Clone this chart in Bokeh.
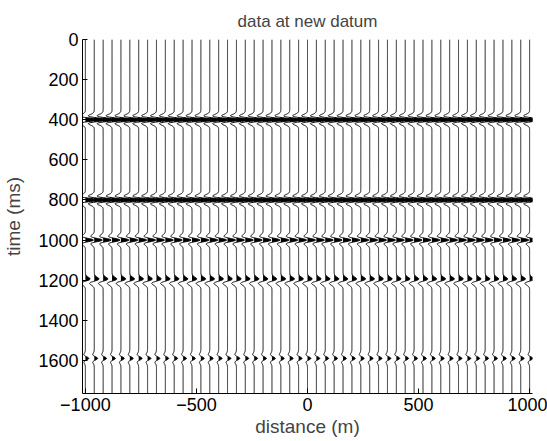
import numpy as np
from bokeh.plotting import figure
from bokeh.models import Range1d, FixedTicker
from bokeh.embed import file_html
from bokeh.resources import INLINE

# ---- data ----
trace_x = list(range(-1000, 1001, 40))            # receiver positions (m)
event_times = [400, 800, 1000, 1205, 1590]       # reflection times (ms)
event_amps = [1.0, 1.0, 0.6, 0.5, 0.25]          # relative amplitudes
event_phase = [0, 0, 0, 90, 0]                   # wavelet phase (deg)
wavelet_freq = 20.0                              # Hz
t_max = 1765
x_ticks = [-1000, -500, 0, 500, 1000]
x_tick_labels = ["\u22121000", "\u2212500", "0", "500", "1000"]
y_ticks = [0, 200, 400, 600, 800, 1000, 1200, 1400, 1600]

# ---- build traces ----
t = np.arange(0, t_max + 1, 1.0)
trace = np.zeros_like(t)
for t0, a, ph in zip(event_times, event_amps, event_phase):
    u = np.pi * wavelet_freq * (t - t0) / 1000.0
    arg = u ** 2
    if ph == 0:
        w = (1 - 2 * arg) * np.exp(-arg)
    else:
        w = -1.65 * u * np.exp(-arg)
    trace += a * w
scale = 60.0

line_xs, line_ys, fill_xs, fill_ys = [], [], [], []
for x0 in trace_x:
    s = trace * scale
    line_xs.append(list(x0 + s))
    line_ys.append(list(t))
    pos = np.clip(s, 0, None)
    fill_xs.append([x0] + list(x0 + pos) + [x0])
    fill_ys.append([t[0]] + list(t) + [t[-1]])

p = figure(width=547, height=441, output_backend="svg", toolbar_location=None,
           x_range=Range1d(-1013, 1013), y_range=Range1d(t_max, 0),
           min_border_left=82, min_border_right=15, min_border_top=39,
           min_border_bottom=48, title="data at new datum")
p.patches(fill_xs, fill_ys, fill_color="black", line_color=None)
p.multi_line(line_xs, line_ys, line_color="black", line_width=1)

p.title.align = "center"
p.title.text_font = "Liberation Sans"
p.title.text_font_style = "normal"
p.title.text_font_size = "17px"
p.title.standoff = 17

p.xgrid.visible = False
p.ygrid.visible = False
p.outline_line_color = None
p.background_fill_color = "white"
p.border_fill_color = "white"

for ax in (p.xaxis[0], p.yaxis[0]):
    ax.major_label_text_font = "Liberation Sans"
    ax.major_label_text_font_size = "18px"
    ax.major_label_text_color = "black"
    ax.axis_label_text_font = "Liberation Sans"
    ax.axis_label_text_font_size = "19px"
    ax.axis_label_text_font_style = "normal"
    ax.axis_line_color = "black"
    ax.major_tick_in = 5
    ax.major_tick_out = 0
    ax.minor_tick_line_color = None
    ax.major_tick_line_color = "black"
    ax.major_label_standoff = 4

p.xaxis.ticker = FixedTicker(ticks=x_ticks)
p.xaxis.major_label_overrides = {v: l for v, l in zip(x_ticks, x_tick_labels)}
p.yaxis.ticker = FixedTicker(ticks=y_ticks)
p.xaxis.axis_label = "distance (m)"
p.yaxis.axis_label = "time (ms)"
p.xaxis.axis_label_standoff = 2
p.yaxis.axis_label_standoff = 11

open("out.html", "w").write(file_html(p, INLINE))
